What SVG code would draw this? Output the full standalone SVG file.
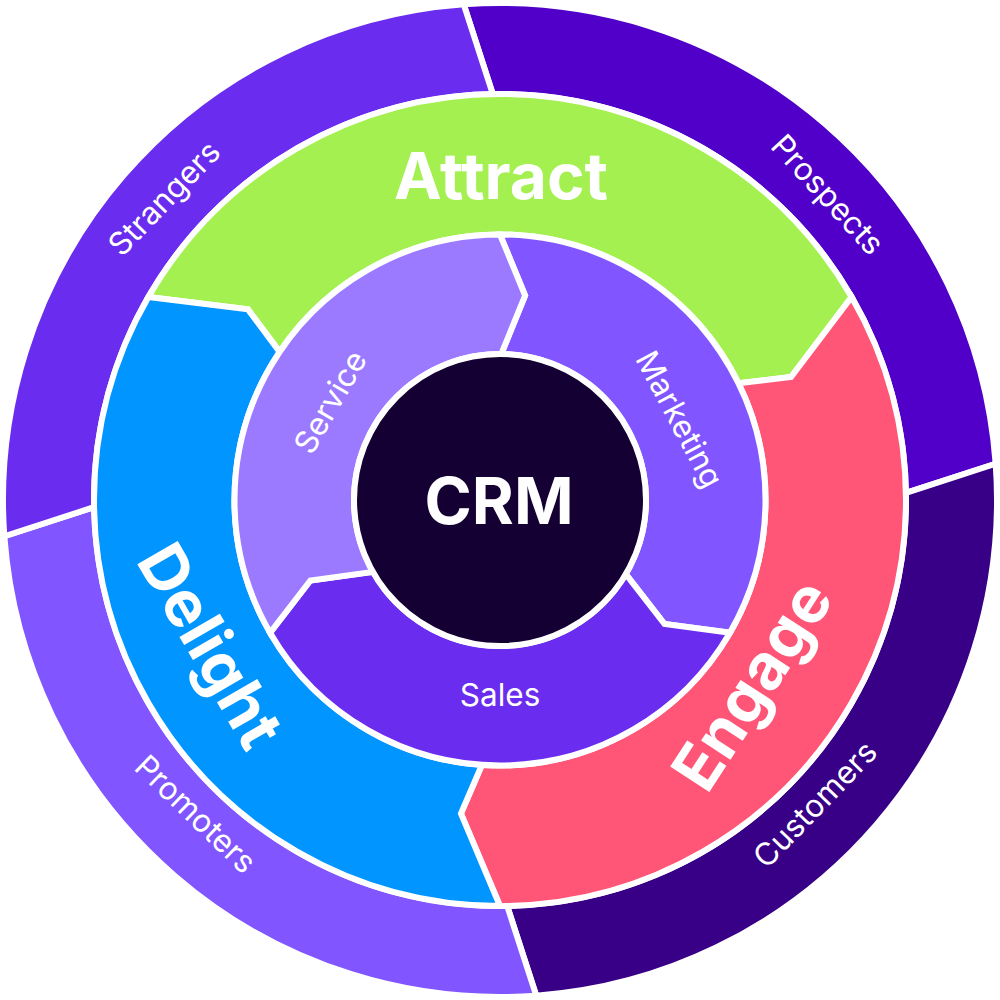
<svg xmlns="http://www.w3.org/2000/svg" width="1000" height="1000" viewBox="0 0 1000 1000">
  <defs>
    <!-- one outer-ring quarter, one middle-ring arrow, one inner-ring arrow (centred on the +x axis) -->
    <path id="outerSeg" d="M-36.27,-495.68 A497,497 0 0 1 495.68,-36.27 L405.93,-7.19 A406,406 0 0 0 -7.19,-405.93 Z"/>
    <path id="midSeg" d="M203,-351.61 A406,406 0 0 1 203,351.61 L122.96,291.10 L116.80,238.43 A265.5,265.5 0 0 0 148.15,-220.32 L190.61,-252.04 Z"/>
    <path id="innerSeg" d="M132.75,-229.93 A265.5,265.5 0 0 1 132.75,229.93 L80.49,189.62 L71.89,127.07 A146,146 0 0 0 74.10,-125.80 L123.97,-164.52 Z"/>
  </defs>
  <style>
    .seg { stroke: #ffffff; stroke-width: 6; stroke-linejoin: miter; }
    .big { font-family: Inter, "Liberation Sans", sans-serif; font-weight: 700; fill: #ffffff; text-anchor: middle; }
    .small { font-family: Inter, "Liberation Sans", sans-serif; font-weight: 400; fill: #ffffff; text-anchor: middle; font-size: 31.5px; }
  </style>

  <rect width="1000" height="1000" fill="#ffffff"/>

  <!-- outer ring: audience stages -->
  <g id="prospects">
    <use href="#outerSeg" class="seg" fill="#5000C8" transform="translate(500 500)"/>
    <text class="small" transform="translate(819.6 202) rotate(47.5)">Prospects</text>
  </g>
  <g id="customers">
    <use href="#outerSeg" class="seg" fill="#380087" transform="translate(500 500) rotate(90)"/>
    <text class="small" transform="translate(823 812) rotate(-46)">Customers</text>
  </g>
  <g id="promoters">
    <use href="#outerSeg" class="seg" fill="#8155FF" transform="translate(500 500) rotate(180)"/>
    <text class="small" transform="translate(188 822) rotate(44)">Promoters</text>
  </g>
  <g id="strangers">
    <use href="#outerSeg" class="seg" fill="#6A2CEE" transform="translate(500 500) rotate(270)"/>
    <text class="small" transform="translate(172 206) rotate(-46)">Strangers</text>
  </g>

  <!-- middle ring: flywheel phases -->
  <g id="attract">
    <use href="#midSeg" class="seg" fill="#A3F050" transform="translate(500 500) rotate(-90)"/>
    <text class="big" font-size="64" x="501" y="199">Attract</text>
  </g>
  <g id="engage">
    <use href="#midSeg" class="seg" fill="#FF5577" transform="translate(500 500) rotate(30)"/>
    <text class="big" font-size="64" transform="translate(771 697) rotate(-57)">Engage</text>
  </g>
  <g id="delight">
    <use href="#midSeg" class="seg" fill="#0095FF" transform="translate(500 500) rotate(150)"/>
    <text class="big" font-size="64" transform="translate(191 657) rotate(60)">Delight</text>
  </g>

  <!-- inner ring: teams -->
  <g id="marketing">
    <use href="#innerSeg" class="seg" fill="#8155FF" transform="translate(500 500) rotate(-30)"/>
    <text class="small" transform="translate(669.9 424.3) rotate(62)">Marketing</text>
  </g>
  <g id="sales">
    <use href="#innerSeg" class="seg" fill="#6A2CEE" transform="translate(500 500) rotate(90)"/>
    <text class="small" x="500" y="706">Sales</text>
  </g>
  <g id="service">
    <use href="#innerSeg" class="seg" fill="#9B7AFF" transform="translate(500 500) rotate(210)"/>
    <text class="small" transform="translate(339.8 407.5) rotate(-60)">Service</text>
  </g>

  <!-- hub -->
  <g id="crm">
    <circle cx="500" cy="500" r="146" fill="#140033" stroke="#ffffff" stroke-width="6"/>
    <text class="big" font-size="64" x="499" y="524">CRM</text>
  </g>

  <g id="connectors"></g>
</svg>
